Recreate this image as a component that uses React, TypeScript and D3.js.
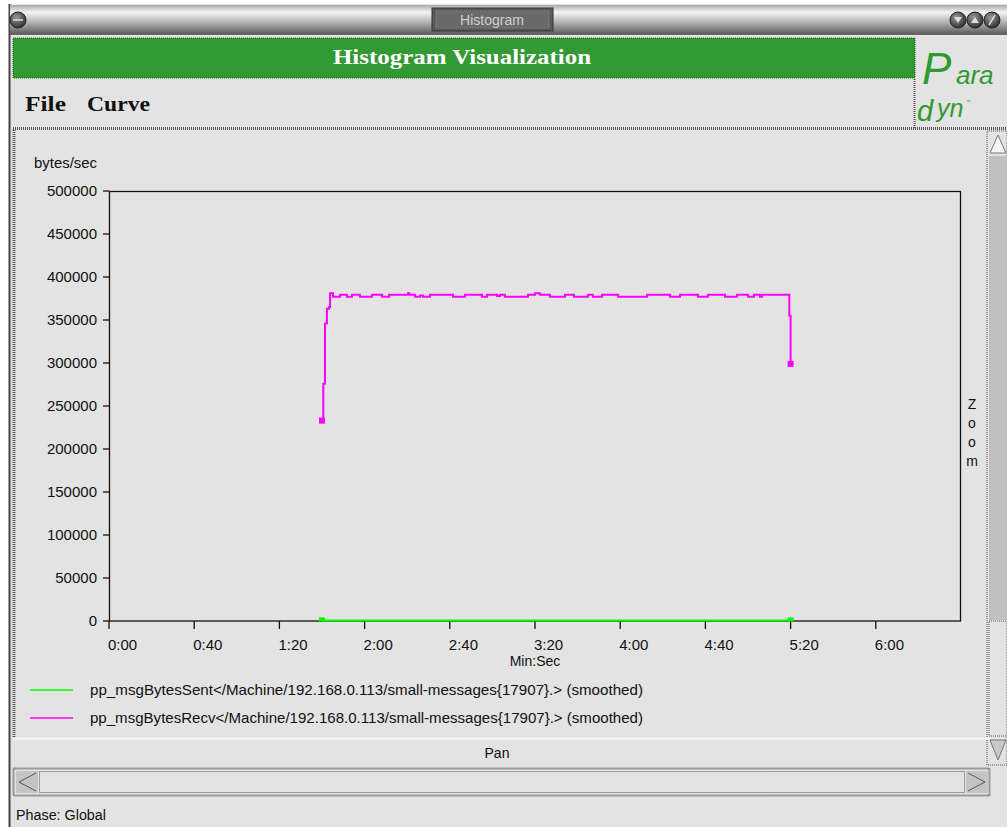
import React from "react";
import * as d3 from "d3";

// ---------- data ----------
const xTickSeconds = [0, 40, 80, 120, 160, 200, 240, 280, 320, 360];
const yTickValues = [0, 50000, 100000, 150000, 200000, 250000, 300000, 350000, 400000, 450000, 500000];

const sentTimes = [100, 320];
const sentValues = [700, 700];

const recvTimes = [
  100, 100.6, 101.4, 102.3, 103.3, 103.8, 105.2, 108.5, 111.7, 114.1, 117.8, 123.5, 128.2, 131.5,
  140.4, 141.0, 143.7, 146.0, 147.4, 150.7, 161.5, 167.1, 175.1, 177.5, 182.2, 183.6, 185.9,
  196.7, 200.0, 202.3, 207.0, 214.1, 218.3, 224.9, 227.2, 231.5, 239.0, 252.6, 263.4, 268.1,
  276.5, 281.2, 289.2, 294.8, 300.0, 302.8, 305.6, 306.6, 319.4, 320,
];
const recvValues = [
  233000, 276000, 346000, 363000, 365000, 381000, 377000, 379500, 377000, 379500, 377000, 379500, 377000, 379500,
  381000, 379500, 377000, 378500, 377000, 379500, 377000, 379500, 377000, 379500, 377800, 379500, 377000,
  379500, 381000, 379500, 377000, 379500, 377000, 379500, 377000, 379500, 377000, 379500, 377000, 379500,
  377000, 379500, 377000, 379500, 377000, 379500, 377000, 379500, 355000, 299000,
];

const legendLabels = [
  "pp_msgBytesSent</Machine/192.168.0.113/small-messages{17907}.> (smoothed)",
  "pp_msgBytesRecv</Machine/192.168.0.113/small-messages{17907}.> (smoothed)",
];
const seriesColors = ["#00ff00", "#ff00ff"];

const FONT = "'Liberation Sans', Arial, sans-serif";
const SERIF = "'Liberation Serif', 'DejaVu Serif', serif";
const BG = "#e3e3e3";
const DOT = "#555";
const LOGO = "#2f9a2f";

function fmt(s: number) {
  const m = Math.floor(s / 60);
  const sec = s % 60;
  return `${m}:${sec < 10 ? "0" : ""}${sec}`;
}

export default function App() {
  const W = 1007, H = 827;
  const x = d3.scaleLinear().domain([0, 400]).range([109, 961]);
  const y = d3.scaleLinear().domain([0, 500000]).range([621, 191]);

  const recv = recvTimes.map((t, i) => [t, recvValues[i]] as [number, number]);
  const sent = sentTimes.map((t, i) => [t, sentValues[i]] as [number, number]);
  const lineStep = d3.line<[number, number]>().x(d => x(d[0])).y(d => y(d[1])).curve(d3.curveStepAfter);
  const lineLin = d3.line<[number, number]>().x(d => x(d[0])).y(d => y(d[1]));

  return (
    <div style={{ position: "absolute", left: 0, top: 0, width: W, height: H }}>
      <svg width={W} height={H} style={{ display: "block" }}>
        <defs>
          <linearGradient id="tb" x1="0" y1="0" x2="0" y2="1">
            <stop offset="0" stopColor="#a8a8a8" />
            <stop offset="0.25" stopColor="#f4f4f4" />
            <stop offset="0.55" stopColor="#bcbcbc" />
            <stop offset="1" stopColor="#5e5e5e" />
          </linearGradient>
          <radialGradient id="btn" cx="0.4" cy="0.35" r="0.7">
            <stop offset="0" stopColor="#9a9a9a" />
            <stop offset="1" stopColor="#2a2a2a" />
          </radialGradient>
        </defs>
        <rect x={0} y={0} width={W} height={H} fill="#ffffff" />
        {/* window body */}
        <rect x={9} y={4} width={W - 9} height={H - 4} fill={BG} />
        <line x1={9.5} y1={4} x2={9.5} y2={H} stroke="#444" strokeWidth={2} />

        {/* title bar */}
        <rect x={10} y={5} width={W - 10} height={29} fill="url(#tb)" />
        <line x1={10} y1={34.5} x2={W} y2={34.5} stroke="#666" />
        <circle cx={18} cy={20} r={8} fill="url(#btn)" stroke="#222" />
        <line x1={13} y1={20} x2={23} y2={20} stroke="#ddd" strokeWidth={1.5} />
        <rect x={432} y={8} width={121} height={23} fill="#5a5a5a" stroke="#333" />
        <rect x={436} y={11} width={113} height={17} fill="#6a6a6a" stroke="#888" strokeDasharray="1,1" />
        <text x={492} y={25} textAnchor="middle" fontFamily={FONT} fontSize={14} fill="#cfcfcf">Histogram</text>
        {[958, 975, 992].map((cx, i) => (
          <g key={i}>
            <circle cx={cx} cy={20} r={8} fill="url(#btn)" stroke="#222" />
          </g>
        ))}
        <path d="M954,17 L962,17 L958,23 Z" fill="#ddd" />
        <path d="M971,23 L979,23 L975,17 Z" fill="#ddd" />
        <line x1={989} y1={25} x2={995} y2={15} stroke="#ddd" strokeWidth={1.5} />

        {/* green header */}
        <rect x={13} y={38} width={902} height={40} fill="#339933" stroke="#1c5c1c" strokeDasharray="1,1" />
        <text x={333} y={64} textLength={258} lengthAdjust="spacingAndGlyphs" fontFamily={SERIF} fontWeight="bold" fontSize={22} fill="#ffffff">
          Histogram Visualization
        </text>

        {/* logo */}
        <line x1={914.5} y1={79} x2={914.5} y2={128} stroke={DOT} strokeDasharray="1,1" strokeWidth={2} />
        <text x={922} y={84} fontFamily={FONT} fontStyle="italic" fontSize={44} fill={LOGO}>P</text>
        <text x={956} y={84} fontFamily={FONT} fontStyle="italic" fontSize={26} fill={LOGO}>ara</text>
        <text x={917} y={121} fontFamily={FONT} fontStyle="italic" fontSize={29} fill={LOGO}>d</text>
        <text x={937} y={117} fontFamily={FONT} fontStyle="italic" fontSize={25} fill={LOGO}>yn</text>
        <text x={967} y={106} fontFamily={FONT} fontSize={9} fill={LOGO}>"</text>

        {/* menu */}
        <text x={25} y={111} textLength={41} lengthAdjust="spacingAndGlyphs" fontFamily={SERIF} fontWeight="bold" fontSize={22} fill="#111">File</text>
        <text x={87} y={111} textLength={63} lengthAdjust="spacingAndGlyphs" fontFamily={SERIF} fontWeight="bold" fontSize={22} fill="#111">Curve</text>

        {/* main panel borders */}
        <line x1={13} y1={128.5} x2={1007} y2={128.5} stroke={DOT} strokeDasharray="1,1" strokeWidth={3} />
        <line x1={14} y1={130} x2={14} y2={738} stroke={DOT} strokeDasharray="1,1" strokeWidth={3} />

        {/* right vertical scrollbar */}
        <rect x={987} y={131} width={20} height={634} fill={BG} stroke={DOT} strokeDasharray="1,1" />
        <rect x={989} y={156} width={18} height={464} fill="#c0c0c0" />
        <rect x={989} y={621} width={18} height={115} fill={BG} stroke={DOT} strokeDasharray="1,1" />
        <path d="M990,153 L998,135 L1006,153 Z" fill="#f4f4f4" stroke="#777" />
        <path d="M990,740 L998,760 L1006,740 Z" fill="#c8c8c8" stroke="#777" />
        {["Z", "o", "o", "m"].map((c, i) => (
          <text key={i} x={972} y={409 + i * 19} textAnchor="middle" fontFamily={FONT} fontSize={14} fill="#111">{c}</text>
        ))}

        {/* plot frame */}
        <rect x={109.5} y={191.5} width={851} height={429.5} fill="none" stroke="#111" strokeWidth={1.3} />
        <text x={34} y={168} textLength={63} lengthAdjust="spacingAndGlyphs" fontFamily={FONT} fontSize={15} fill="#111">bytes/sec</text>
        {yTickValues.map(v => (
          <g key={v}>
            <line x1={103} x2={109} y1={y(v)} y2={y(v)} stroke="#111" strokeWidth={1.3} />
            <text x={97} y={y(v) + 5} textAnchor="end" fontFamily={FONT} fontSize={15} fill="#111">{v}</text>
          </g>
        ))}
        {xTickSeconds.map(s => (
          <g key={s}>
            <line x1={x(s)} x2={x(s)} y1={621} y2={629} stroke="#111" strokeWidth={1.3} />
            <text x={x(s) - 1} y={650} fontFamily={FONT} fontSize={15} fill="#111">{fmt(s)}</text>
          </g>
        ))}
        <text x={535} y={666} textAnchor="middle" fontFamily={FONT} fontSize={14} fill="#111">Min:Sec</text>

        {/* series */}
        <path d={lineLin(sent) || ""} fill="none" stroke={seriesColors[0]} strokeWidth={2} />
        {[sent[0], sent[sent.length - 1]].map((d, i) => (
          <rect key={i} x={x(d[0]) - 3} y={y(d[1]) - 3} width={6} height={4} fill={seriesColors[0]} />
        ))}
        <path d={lineStep(recv) || ""} fill="none" stroke={seriesColors[1]} strokeWidth={2} />
        {[recv[0], recv[recv.length - 1]].map((d, i) => (
          <rect key={i} x={x(d[0]) - 3} y={y(d[1]) - 3} width={6} height={6} fill={seriesColors[1]} />
        ))}

        {/* legend */}
        {legendLabels.map((l, i) => (
          <g key={i}>
            <line x1={30} x2={73} y1={690 + i * 28} y2={690 + i * 28} stroke={seriesColors[i]} strokeWidth={1.5} />
            <text x={90} y={695 + i * 28} textLength={553} lengthAdjust="spacingAndGlyphs" fontFamily={FONT} fontSize={15} fill="#111">{l}</text>
          </g>
        ))}

        {/* pan area */}
        <line x1={13} y1={738.5} x2={990} y2={738.5} stroke="#f8f8f8" strokeWidth={2} />
        <text x={497} y={758} textAnchor="middle" fontFamily={FONT} fontSize={14} fill="#111">Pan</text>
        <rect x={13.5} y={768.5} width={976} height={27} fill={BG} stroke={DOT} strokeDasharray="1,1" strokeWidth={2} />
        <rect x={16} y={771} width={22} height={22} fill="#c4c4c4" />
        <path d="M36,773 L19,782 L36,791" fill="none" stroke="#555" />
        <rect x={39.5} y={771.5} width={925} height={21} fill={BG} stroke={DOT} strokeDasharray="1,1" />
        <rect x={966} y={771} width={22} height={22} fill="#c4c4c4" />
        <path d="M968,773 L985,782 L968,791" fill="none" stroke="#555" />
        <text x={16} y={820} textLength={90} lengthAdjust="spacingAndGlyphs" fontFamily={FONT} fontSize={14} fill="#111">Phase: Global</text>
      </svg>
    </div>
  );
}
